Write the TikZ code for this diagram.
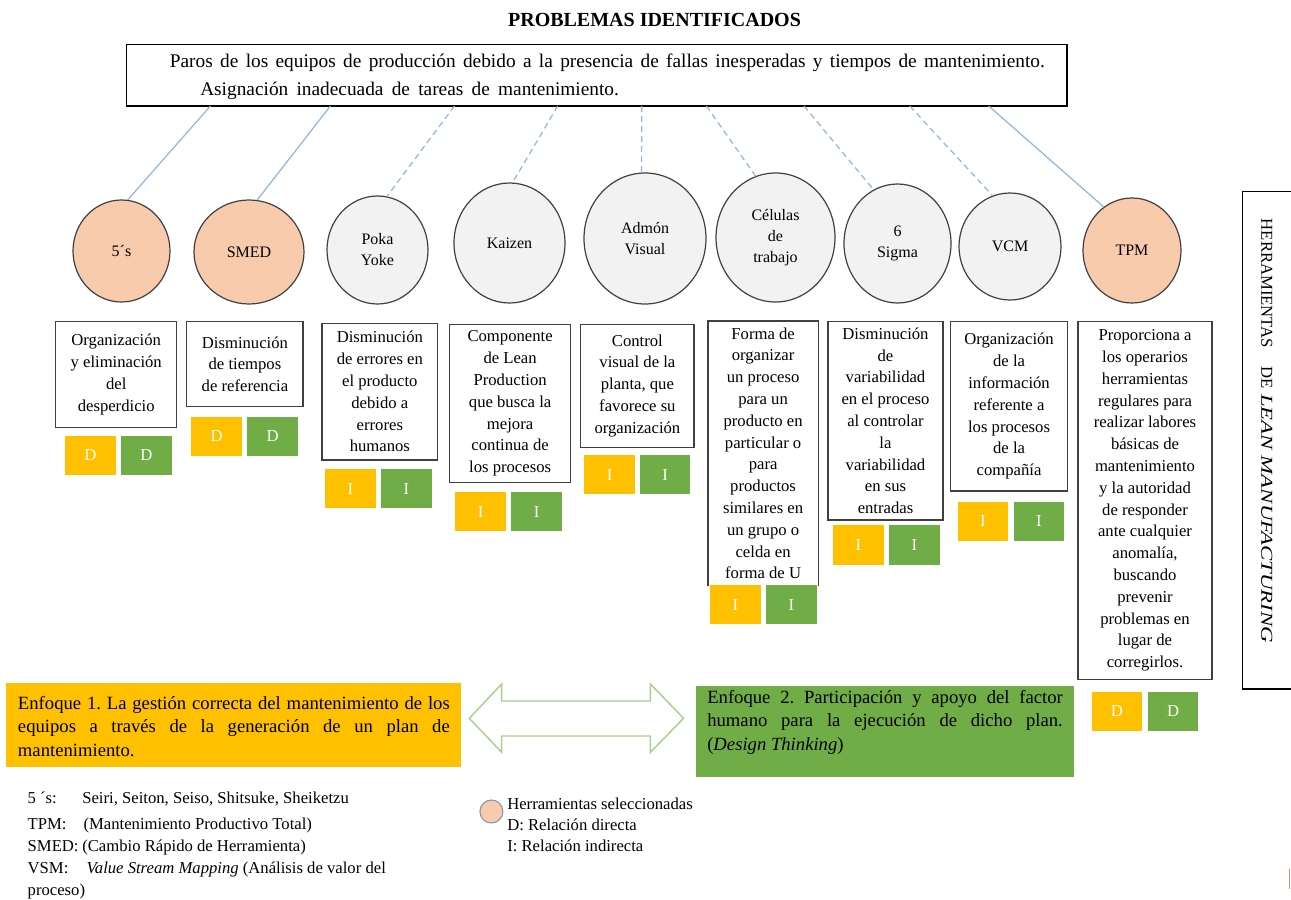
\documentclass[tikz,border=0pt]{standalone}
\usepackage{fontspec}
\setmainfont{Liberation Serif}
\usetikzlibrary{shapes.geometric}
\definecolor{salmon}{HTML}{F8CBAD}
\definecolor{toolgray}{HTML}{F2F2F2}
\definecolor{ryellow}{HTML}{FFC000}
\definecolor{rgreen}{HTML}{70AD47}
\definecolor{arrowgreen}{HTML}{A9D18E}
\definecolor{linkblue}{RGB}{140,182,228}
\definecolor{edgegray}{HTML}{404040}
\definecolor{legendedge}{RGB}{130,150,180}
\definecolor{markbrown}{RGB}{200,150,110}
\begin{document}
\frenchspacing
\begin{tikzpicture}[x=0.75pt,y=-0.75pt,
 tool/.style={ellipse,draw=edgegray,line width=0.9pt,inner sep=0pt,align=center,font=\fontsize{12}{15.75}\selectfont},
 seltool/.style={tool,fill=salmon},
 othtool/.style={tool,fill=toolgray},
 descbox/.style={draw=edgegray,line width=0.9pt,inner sep=0pt,align=center,font=\fontsize{12.5}{16.35}\selectfont},
 relbox/.style={minimum width=37.9pt,minimum height=29.5pt,inner sep=0pt,text=white,font=\fontsize{12.5}{14}\selectfont},
 relY/.style={relbox,fill=ryellow},
 relG/.style={relbox,fill=rgreen},
 solidlink/.style={draw=linkblue,line width=0.9pt},
 dashlink/.style={draw=linkblue,line width=0.9pt,dash pattern=on 4.5pt off 3pt},
 txt/.style={inner sep=0pt,anchor=base west,font=\fontsize{12.5}{15}\selectfont},
 bigtxt/.style={inner sep=0pt,anchor=base west,font=\fontsize{14}{17}\selectfont},
]
\useasboundingbox (0,0) rectangle (1291,899);

% title
\node[inner sep=0pt,anchor=base,font=\fontsize{15}{18}\selectfont\bfseries] (title) at (654.5,26.6) {PROBLEMAS IDENTIFICADOS};

% problem box
\node[draw=black,line width=0.9pt,minimum width=705.4pt,minimum height=46.1pt,inner sep=0pt] (prob) at (596.75,75.25) {};
\node[inner sep=0pt,anchor=base west,font=\fontsize{14.5}{17}\selectfont] (prob1) at (169.6,67.5) {\makebox[656.25pt][s]{Paros de los equipos de producción debido a la presencia de fallas inesperadas y tiempos de mantenimiento.}};
\node[inner sep=0pt,anchor=base west,font=\fontsize{14.5}{17}\selectfont] (prob2) at (200,95) {\makebox[314pt][s]{Asignación inadecuada de tareas de mantenimiento.}};

% tools
\node[seltool,minimum width=72.75pt,minimum height=76.5pt] (c1) at (121.5,251) {5´s};
\node[seltool,minimum width=82.5pt,minimum height=78pt] (c2) at (249,252) {SMED};
\node[othtool,minimum width=75.75pt,minimum height=81pt] (c3) at (377.5,250) {Poka\\Yoke};
\node[othtool,minimum width=83.25pt,minimum height=90pt] (c4) at (509.5,243) {Kaizen};
\node[othtool,minimum width=91.5pt,minimum height=98.25pt] (c5) at (645,238.5) {Admón\\Visual};
\node[othtool,minimum width=89.25pt,minimum height=96.75pt] (c6) at (775.5,237.5) {Células\\de\\trabajo};
\node[othtool,minimum width=80.25pt,minimum height=89.25pt] (c7) at (897.5,243.5) {6\\Sigma};
\node[othtool,minimum width=76.5pt,minimum height=80.25pt] (c8) at (1010,246.5) {VCM};
\node[seltool,minimum width=73.5pt,minimum height=78.75pt] (c9) at (1132,250.5) {TPM};

% link start points on the problem box
\coordinate (s1) at (210.4,106);
\coordinate (s2) at (330.4,106);
\coordinate (s3) at (454.5,106);
\coordinate (s4) at (557.7,106);
\coordinate (s5) at (641.8,106);
\coordinate (s6) at (706.4,106);
\coordinate (s7) at (804,106);
\coordinate (s8) at (909.8,106);
\coordinate (s9) at (988.7,106);

\draw[solidlink] (s1) -- (c1.83);
\draw[solidlink] (s2) -- (c2.81);
\draw[dashlink] (s3) -- (c3.80);
\draw[dashlink] (s4) -- (c4.87);
\draw[dashlink] (s5) -- (c5.93);
\draw[dashlink] (s6) -- (c6.108);
\draw[dashlink] (s7) -- (c7.114);
\draw[dashlink] (s8) -- (c8.109);
\draw[solidlink] (s9) -- (c9.123);

% descriptions
\node[descbox,minimum width=90.9pt,minimum height=79.2pt] (d1) at (116.2,374.5) {Organización\\y eliminación\\del\\desperdicio};
\node[descbox,minimum width=87.1pt,minimum height=63.75pt] (d2) at (244.95,364.2) {Disminución\\de tiempos\\de referencia};
\node[descbox,minimum width=86.8pt,minimum height=102.5pt] (d3) at (379.85,391.65) {Disminución\\de errores en\\el producto\\debido a\\errores\\humanos};
\node[descbox,minimum width=90.9pt,minimum height=118.8pt] (d4) at (510.1,403.5) {Componente\\de Lean\\Production\\que busca la\\mejora\\continua de\\los procesos};
\node[descbox,minimum width=84.9pt,minimum height=92.25pt] (d5) at (637.4,385.8) {Control\\visual de la\\planta, que\\favorece su\\organización};
\node[descbox,draw=none,minimum width=81.9pt,minimum height=197.5pt] (d6) at (763.1,453.35) {Forma de\\organizar\\un proceso\\para un\\producto en\\particular o\\para\\productos\\similares en\\un grupo o\\celda en\\forma de U};
\draw[edgegray,line width=0.9pt] (d6.south west) -- (d6.north west) -- (d6.north east) -- (d6.south east);
\node[descbox,minimum width=86.25pt,minimum height=148.7pt] (d7) at (885.5,420.85) {Disminución\\de\\variabilidad\\en el proceso\\al controlar\\la\\variabilidad\\en sus\\entradas};
\node[descbox,minimum width=87.8pt,minimum height=127pt] (d8) at (1009.05,406.35) {Organización\\de la\\información\\referente a\\los procesos\\de la\\compañía};
\node[descbox,minimum width=100.5pt,minimum height=268.2pt] (d9) at (1145,500.5) {Proporciona a\\los operarios\\herramientas\\regulares para\\realizar labores\\básicas de\\mantenimiento\\y la autoridad\\de responder\\ante cualquier\\anomalía,\\buscando\\prevenir\\problemas en\\lugar de\\corregirlos.};

% relation boxes
\node[relY] (r1a) at (90.35,455.5) {D};
\node[relG] (r1b) at (146.35,455.5) {D};
\node[relY] (r2a) at (216.75,436.35) {D};
\node[relG] (r2b) at (272.75,436.35) {D};
\node[relY] (r3a) at (350.5,488.65) {I};
\node[relG] (r3b) at (406.5,488.65) {I};
\node[relY] (r4a) at (480.65,511.65) {I};
\node[relG] (r4b) at (536.65,511.65) {I};
\node[relY] (r5a) at (609.75,474.65) {I};
\node[relG] (r5b) at (665.15,474.65) {I};
\node[relY] (r6a) at (735.5,604.65) {I};
\node[relG] (r6b) at (791.5,604.65) {I};
\node[relY] (r7a) at (858.35,545) {I};
\node[relG] (r7b) at (914.35,545) {I};
\node[relY] (r8a) at (982.9,521.2) {I};
\node[relG] (r8b) at (1038.9,521.2) {I};
\node[relY] (r9a) at (1116.95,711.35) {D};
\node[relG] (r9b) at (1173,711.35) {D};

% vertical title box
\node[draw=black,line width=0.9pt,minimum width=37.7pt,minimum height=373pt,inner sep=0pt] (vbox) at (1267.85,440.35) {};
\node[rotate=-90,inner sep=0pt,font=\fontsize{12.5}{15}\selectfont] (vtext) at (1266.7,431) {HERRAMIENTAS\hspace{13.5pt}DE\hspace{4.5pt}\scalebox{1.37}[1]{\textit{LEAN MANUFACTURING}}};

% approaches
\node[fill=ryellow,minimum width=340.95pt,minimum height=62.55pt,inner sep=0pt] (enf1) at (233.6,725) {};
\node[bigtxt] (e1a) at (17.7,709) {\makebox[323.85pt][s]{Enfoque 1. La gestión correcta del mantenimiento de los}};
\node[bigtxt] (e1b) at (17.7,732.3) {\makebox[323.85pt][s]{equipos a través de la generación de un plan de}};
\node[bigtxt] (e1c) at (17.7,756) {mantenimiento.};

\node[fill=rgreen,minimum width=283.35pt,minimum height=68.5pt,inner sep=0pt] (enf2) at (884.9,731.65) {};
\node[bigtxt] (e2a) at (707,703) {\makebox[266.7pt][s]{Enfoque 2. Participación y apoyo del factor}};
\node[bigtxt] (e2b) at (707,726.5) {\makebox[266.7pt][s]{humano para la ejecución de dicho plan.}};
\node[bigtxt] (e2c) at (707,750) {(\textit{Design Thinking})};

% double arrow
\draw[arrowgreen,line width=1.1pt,fill=white,line join=miter] (469.3,718.3) -- (501.7,684) -- (501.7,701) -- (650.4,701) -- (650.4,684) -- (683.6,718.3) -- (650.4,752.3) -- (650.4,736) -- (501.7,736) -- (501.7,752.3) -- cycle;

% legend left
\node[txt] (l1a) at (27.4,803) {5 ´s:};
\node[txt] (l1b) at (82,803) {Seiri, Seiton, Seiso, Shitsuke, Sheiketzu};
\node[txt] (l2a) at (27.4,829) {TPM:};
\node[txt] (l2b) at (83.3,829) {(Mantenimiento Productivo Total)};
\node[txt] (l3a) at (27.4,851) {SMED:};
\node[txt] (l3b) at (82,851) {(Cambio Rápido de Herramienta)};
\node[txt] (l4a) at (27.4,873) {VSM:};
\node[txt] (l4b) at (86.3,873) {\textit{Value Stream Mapping} (Análisis de valor del};
\node[txt] (l5) at (27.4,895) {proceso)};

% legend middle
\node[circle,fill=salmon,draw=legendedge,line width=0.8pt,minimum size=17.25pt,inner sep=0pt] (lc) at (491.4,811.5) {};
\node[txt] (lg1) at (507,809) {Herramientas seleccionadas};
\node[txt] (lg2) at (507,830) {D: Relación directa};
\node[txt] (lg3) at (507,851.5) {I: Relación indirecta};

% small mark
\draw[markbrown,line width=1pt] (1289.5,869) -- (1289.5,889);
\end{tikzpicture}
\end{document}
